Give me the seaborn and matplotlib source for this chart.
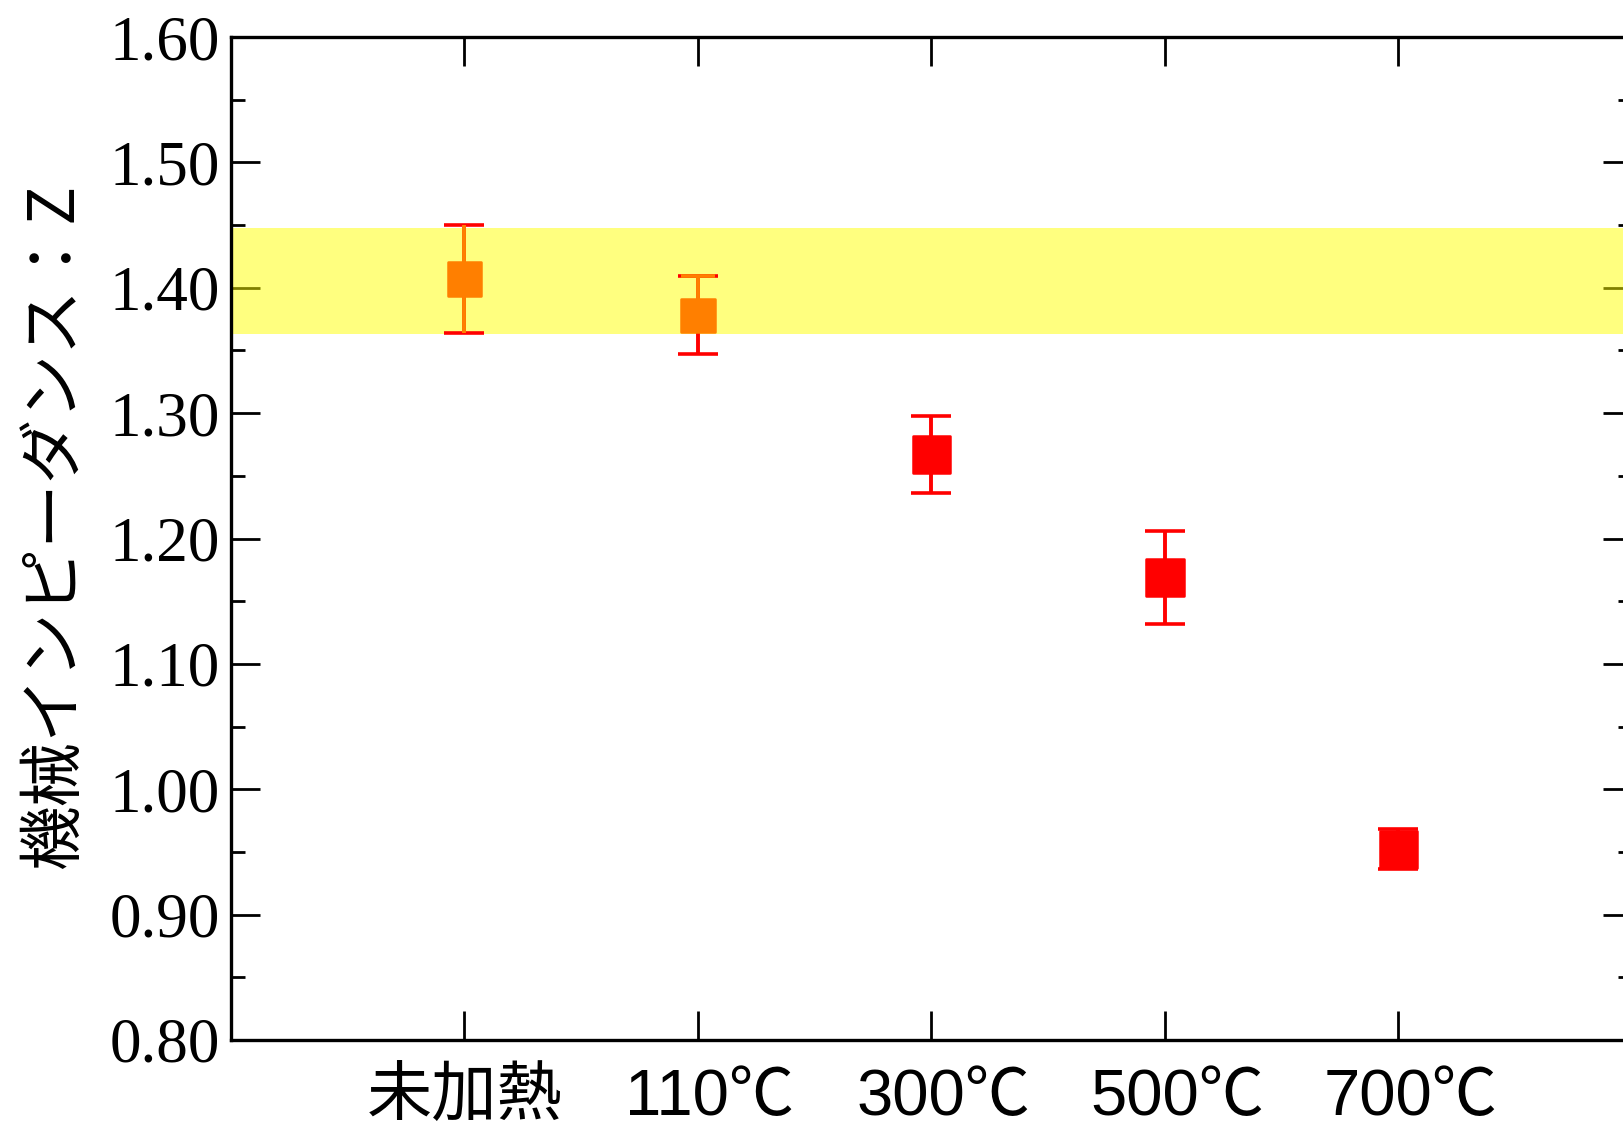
import numpy as np
import pandas as pd
import matplotlib
matplotlib.use("Agg")
import matplotlib.pyplot as plt
from matplotlib.ticker import MultipleLocator, FormatStrFormatter
from matplotlib.transforms import ScaledTranslation
import seaborn as sns

# ---- data ----
categories = ["未加熱", "110℃", "300℃", "500℃", "700℃"]
z_mean = [1.407, 1.378, 1.267, 1.169, 0.952]
z_err = [0.043, 0.031, 0.031, 0.037, 0.016]
band_low, band_high = 1.363, 1.448
y_ticks = [0.80, 0.90, 1.00, 1.10, 1.20, 1.30, 1.40, 1.50, 1.60]

# ---- style ----
group = ["orange", "orange", "red", "red", "red"]
palette = {"orange": "#FF7F00", "red": "#FF0000"}
sizes = {"orange": 23.8 ** 2, "red": 27.0 ** 2}

sns.set_theme(style="ticks")
plt.rcParams["axes.axisbelow"] = True
plt.rcParams["text.color"] = "black"
plt.rcParams["xtick.color"] = "black"
plt.rcParams["ytick.color"] = "black"
plt.rcParams["xtick.labelcolor"] = "black"
plt.rcParams["ytick.labelcolor"] = "black"

fig = plt.figure(figsize=(16.24, 11.31), dpi=100)
W, H = 1624, 1131
left, right, top, bottom = 231, 1632, 37, 1040
ax = fig.add_axes([left / W, (H - bottom) / H, (right - left) / W, (bottom - top) / H])

df = pd.DataFrame({"cat": categories, "z": z_mean, "err": z_err, "g": group})

# band
ax.axhspan(band_low, band_high, color="#FFFF00", alpha=0.5, lw=0, zorder=1)

# error bars (red base)
ax.errorbar(df["cat"], df["z"], yerr=df["err"], fmt="none", ecolor="#FF0000",
            elinewidth=2.8, capsize=14.4, capthick=2.6, zorder=2)
# orange overlays
ax.errorbar([categories[0]], [z_mean[0]], yerr=[[z_err[0]], [z_err[0]]], fmt="none",
            ecolor="#FF7F00", elinewidth=2.8, capsize=0, zorder=2.1)
ax.errorbar([categories[1]], [z_mean[1]], yerr=[[0], [z_err[1]]], fmt="none",
            ecolor="#FF7F00", elinewidth=2.8, capsize=12.4, capthick=2.6, zorder=2.1)

sns.scatterplot(data=df, x="cat", y="z", hue="g", palette=palette, size="g",
                sizes=sizes, marker="s", edgecolor="face", linewidth=1.8,
                legend=False, ax=ax, zorder=3, joinstyle="round")

ax.set_xlim(-1, 5)
ax.set_ylim(0.80, 1.60)
ax.set_yticks(y_ticks)
ax.yaxis.set_major_formatter(FormatStrFormatter("%.2f"))
ax.yaxis.set_minor_locator(MultipleLocator(0.05))
ax.set_xticks(range(len(categories)))
ax.set_xticklabels(categories)
ax.set_xlabel("")
ax.set_ylabel("")

for s in ax.spines.values():
    s.set_visible(True)
    s.set_linewidth(2.4)
    s.set_color("black")

ax.tick_params(axis="both", which="major", direction="in", length=20.9, width=2.0,
               color="black", top=True, right=True)
ax.tick_params(axis="y", which="minor", direction="in", length=10.0, width=2.0,
               color="black", left=True, right=True)
ax.tick_params(axis="y", which="major", pad=8, labelsize=45.5, labelcolor="black")
ax.tick_params(axis="x", which="major", pad=20, labelsize=47, labelcolor="black")

for lab in ax.get_yticklabels():
    lab.set_family(["Liberation Serif"])
for lab in ax.get_xticklabels():
    lab.set_family(["Liberation Sans", "Noto Sans CJK JP"])
    if "℃" in lab.get_text():
        lab.set_transform(lab.get_transform() + ScaledTranslation(12 / 100, 0, fig.dpi_scale_trans))

fig.text(55 / W, (H - 525) / H, "機械インピーダンス：Z", rotation=90,
         ha="center", va="center", fontsize=46.5, color="black",
         family=["Noto Sans CJK JP"])

fig.savefig("out.png", dpi=100)
